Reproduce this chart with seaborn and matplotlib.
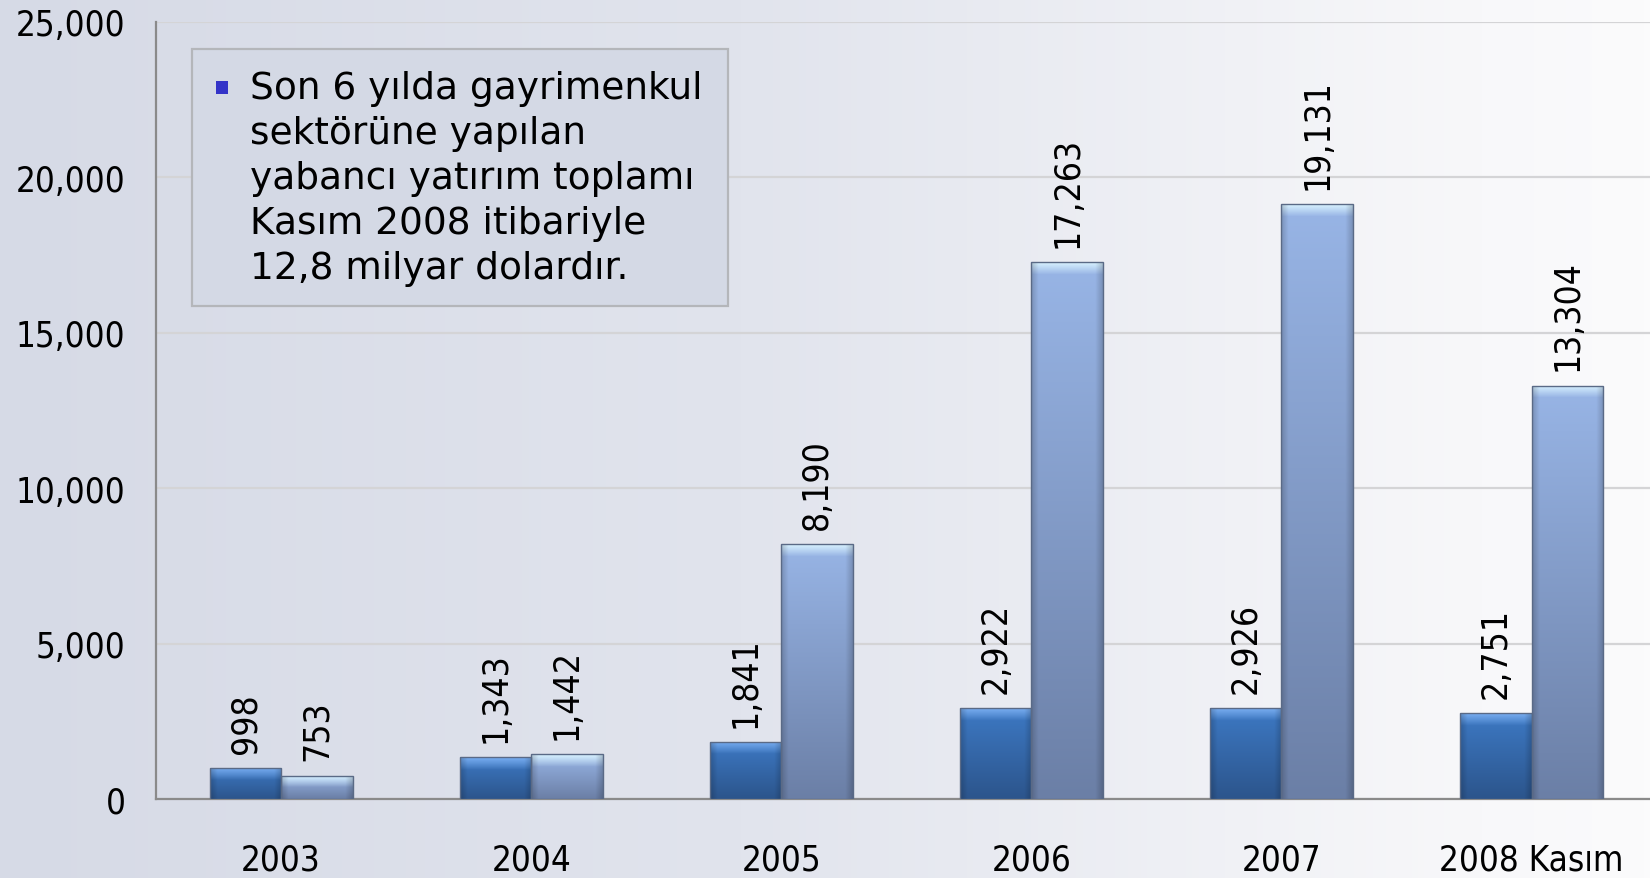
import numpy as np
import pandas as pd
import matplotlib.pyplot as plt
import seaborn as sns
from matplotlib.colors import LinearSegmentedColormap, to_rgb
from matplotlib.patches import Rectangle

# values (million USD)
years = ["2003", "2004", "2005", "2006", "2007", "2008 Kasım"]
gayrimenkul = [998, 1343, 1841, 2922, 2926, 2751]
toplam = [753, 1442, 8190, 17263, 19131, 13304]
series_names = ["Gayrimenkul", "Toplam"]
y_ticks = [0, 5000, 10000, 15000, 20000, 25000]
note_text = ("Son 6 yılda gayrimenkul\n"
             "sektörüne yapılan\n"
             "yabancı yatırım toplamı\n"
             "Kasım 2008 itibariyle\n"
             "12,8 milyar dolardır.")

df = pd.DataFrame({
    "year": years + years,
    "value": gayrimenkul + toplam,
    "series": [series_names[0]] * len(years) + [series_names[1]] * len(years),
})

sns.set_style("white")
plt.rcParams["font.family"] = ["DejaVu Sans"]

fig = plt.figure(figsize=(16.5, 8.79), dpi=100)

# horizontal background gradient over the whole figure
bg = fig.add_axes([0, 0, 1, 1], zorder=-10)
bg_cmap = LinearSegmentedColormap.from_list(
    "bg", [(0, "#d6dae6"), (0.45, "#e1e4ed"), (0.9, "#f8f8fa"), (1, "#fbfbfc")])
bg.imshow(np.linspace(0, 1, 512).reshape(1, -1), aspect="auto", cmap=bg_cmap,
          extent=[0, 1, 0, 1])
bg.set_axis_off()

ax = fig.add_axes([156 / 1650, 79 / 879, 1 - 156 / 1650 + 0.004, 777 / 879])
ax.patch.set_alpha(0)

sns.barplot(data=df, x="year", y="value", hue="series", order=years,
            hue_order=series_names, palette=["#3a70b6", "#8ea9d9"],
            width=0.572, gap=0, saturation=1, legend=False, ax=ax, zorder=3)

ax.set_ylim(0, 25000)
ax.set_xlim(-0.5, 5.5)
ax.set_yticks(y_ticks)
ax.set_yticklabels([f"{v:,}" for v in y_ticks], fontstretch="condensed",
                   fontsize=25, color="black")
ax.set_xlabel("")
ax.set_ylabel("")

ax.yaxis.grid(True, color="#d4d4d6", lw=1.6, zorder=0)
ax.set_axisbelow(True)
for side in ["top", "right"]:
    ax.spines[side].set_visible(False)
for side in ["left", "bottom"]:
    ax.spines[side].set_color("#8a8a8a")
    ax.spines[side].set_linewidth(1.6)

ax.tick_params(axis="y", length=8, width=1.4, color="#8a8a8a", pad=14, direction="out")
ax.set_xticks(np.arange(len(years)))
ax.set_xticklabels(years, fontstretch="condensed", fontsize=25, color="black")
ax.tick_params(axis="x", which="major", length=0, pad=31)
ax.set_xticks(np.arange(-0.5, len(years)), minor=True)
ax.tick_params(axis="x", which="minor", length=9, width=1.4, color="#8a8a8a",
               direction="out")

# shaded bevel fill for each bar
styles = [
    {"hi": "#78adf0", "top": "#3d79c4", "bot": "#2c558c"},
    {"hi": "#d8f2ff", "top": "#98b5e6", "bot": "#6b7fa6"},
]
fig.canvas.draw()
px_per_unit = ax.transData.transform((0, 1000))[1] - ax.transData.transform((0, 0))[1]
px_per_unit /= 1000.0
for cont, st in zip(ax.containers, styles):
    for bar in cont:
        x0, y0 = bar.get_x(), bar.get_y()
        w, h = bar.get_width(), bar.get_height()
        rows = max(int(h * px_per_unit), 4)
        t = np.linspace(0, 1, rows)[:, None]
        top, bot, hi = np.array(to_rgb(st["top"])), np.array(to_rgb(st["bot"])), np.array(to_rgb(st["hi"]))
        col = top[None, :] * (1 - t) + bot[None, :] * t
        band = min(12, rows // 2)
        for r in range(band):
            f = 1 - r / band
            col[r] = hi * f + col[r] * (1 - f)
        img = np.repeat(col[:, None, :], 60, axis=1)
        xs = np.linspace(0, 1, 60)
        edge = np.clip(np.minimum(xs, 1 - xs) / 0.1, 0, 1)
        shade = 0.82 + 0.18 * edge
        img = img * shade[None, :, None]
        im = ax.imshow(img, extent=[x0, x0 + w, y0, y0 + h], aspect="auto",
                       origin="upper", zorder=3.5, interpolation="bilinear")
        im.set_clip_path(bar)
        bar.set_facecolor("none")
        bar.set_edgecolor("#5a6a86")
        bar.set_linewidth(1.0)
        bar.set_zorder(4)
    ax.bar_label(cont, labels=[f"{v:,.0f}" for v in cont.datavalues],
                 rotation=90, padding=11, fontsize=25.5, fontstretch="condensed",
                 color="black", zorder=5)

ax.set_xlim(-0.5, 5.5)
ax.set_ylim(0, 25000)

# note box
fig.add_artist(Rectangle((192 / 1650, 572 / 879), 536 / 1650, 257 / 879,
                         transform=fig.transFigure, facecolor="#d4d9e5",
                         edgecolor="#b4b6ba", lw=1.6, zorder=6))
fig.add_artist(Rectangle((216 / 1650, 1 - 95 / 879), 12 / 1650, 13 / 879,
                         transform=fig.transFigure, facecolor="#3434c8",
                         edgecolor="none", zorder=7))
fig.text(250 / 1650, 1 - 71 / 879, note_text, fontsize=27, va="top", ha="left",
         linespacing=1.32, color="black", zorder=7)

fig.savefig("out.png", dpi=100)
